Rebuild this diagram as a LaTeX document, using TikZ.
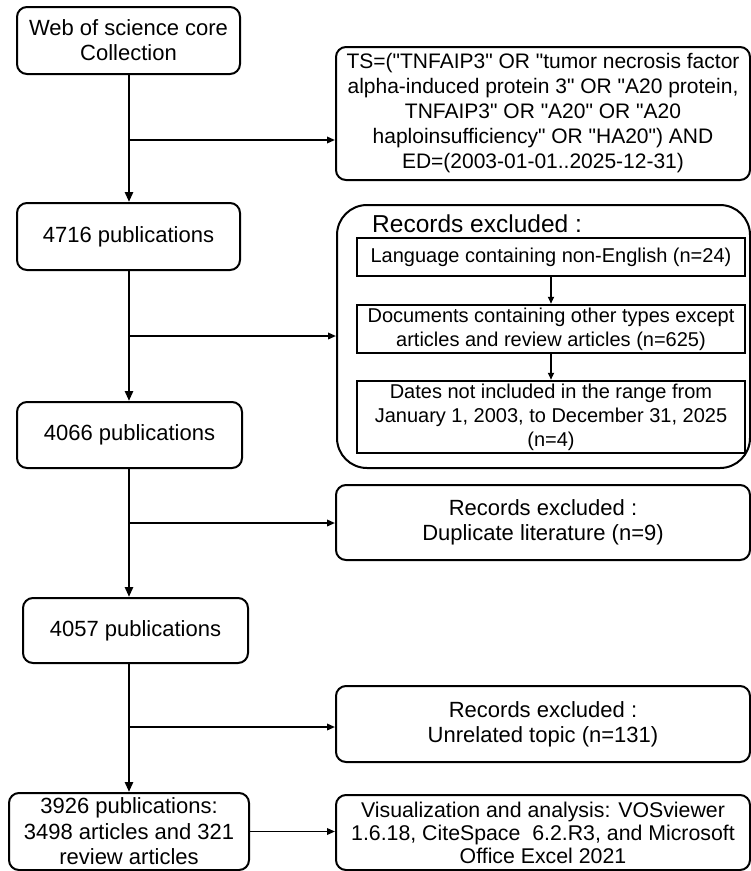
\documentclass[tikz,border=0pt]{standalone}
\usepackage{fontspec}
\setmainfont{Liberation Sans}
\usetikzlibrary{arrows.meta}
\newcommand\dq{\textquotedbl{}}
\tikzset{
  rbox/.style={draw, line width=2pt, rounded corners=10pt, align=center, inner sep=0pt,
    font=\fontsize{22}{25}\selectfont},
  ibox/.style={draw, line width=2.5pt, align=center, inner sep=0pt,
    font=\fontsize{20}{24}\selectfont},
  mainarr/.style={line width=2.6pt, -{Triangle[length=10pt,width=8pt]}},
  brarr/.style={line width=1.8pt, -{Triangle[length=8pt,width=6.5pt]}},
  inarr/.style={line width=1.6pt, -{Triangle[length=7pt,width=6pt]}},
}
\begin{document}
\begin{tikzpicture}[x=1pt, y=-1pt]
\useasboundingbox (0,0) rectangle (751,871);
% left column
\node[rbox, minimum width=223pt, minimum height=67pt] (b1) at (128.5,40.5)
  {Web of science core\\Collection};
\node[rbox, minimum width=223pt, minimum height=67pt] (b4716) at (128.5,236.5)
  {4716 publications};
\node[rbox, minimum width=225pt, minimum height=66pt] (b4066) at (129.5,435)
  {4066 publications};
\node[rbox, minimum width=225pt, minimum height=65pt] (b4057) at (135.5,630.5)
  {4057 publications};
\node[rbox, minimum width=240pt, minimum height=77pt, font=\fontsize{22}{25.5}\selectfont] (b3926) at (129,831.5)
  {3926 publications:\\3498 articles and 321\\review articles};
% right column
\node[rbox, minimum width=414pt, minimum height=133pt, font=\fontsize{21}{25}\selectfont] (ts) at (543,113.5)
  {TS=(\dq TNFAIP3\dq{} OR \dq tumor necrosis factor\\alpha-induced protein 3\dq{} OR \dq A20 protein,\\TNFAIP3\dq{} OR \dq A20\dq{} OR \dq A20\\haploinsufficiency\dq{} OR \dq HA20\dq) AND\\ED=(2003-01-01..2025-12-31)};
\node[draw, line width=2pt, rounded corners=30pt, minimum width=413pt, minimum height=263pt, inner sep=0pt] (big) at (543.5,336.5) {};
\node[anchor=west, inner sep=0pt, font=\fontsize{24.5}{28}\selectfont] (title) at (372,224) {Records excluded :};
\node[ibox, minimum width=388pt, minimum height=38pt] (inA) at (551,257)
  {Language containing non-English (n=24)};
\node[ibox, minimum width=388pt, minimum height=48pt] (inB) at (551,329)
  {Documents containing other types except\\articles and review articles (n=625)};
\node[ibox, minimum width=388pt, minimum height=72pt] (inC) at (551,417)
  {Dates not included in the range from\\January 1, 2003, to December 31, 2025\\(n=4)};
\node[rbox, minimum width=414pt, minimum height=75pt] (dup) at (543,522.5)
  {Records excluded :\\Duplicate literature (n=9)};
\node[rbox, minimum width=414pt, minimum height=76pt] (unrel) at (543,724)
  {Records excluded :\\Unrelated topic (n=131)};
\node[rbox, minimum width=414pt, minimum height=75pt, font=\fontsize{21.3}{23}\selectfont] (viz) at (543,832.5)
  {Visualization and analysis: VOSviewer\\1.6.18, CiteSpace\ \ 6.2.R3, and Microsoft\\Office Excel 2021};
% junctions
\coordinate (j1) at (129,140);
\coordinate (j2) at (129,336);
\coordinate (j3) at (129,523);
\coordinate (j4) at (129,727);
% main flow
\draw[mainarr] (b1.south -| j1) -- (j1 |- b4716.north);
\draw[mainarr] (b4716.south -| j1) -- (j1 |- b4066.north);
\draw[mainarr] (b4066.south -| j1) -- (j1 |- b4057.north);
\draw[mainarr] (b4057.south -| j1) -- (j1 |- b3926.north);
% branches
\draw[brarr] (j1) -- (j1 -| ts.west);
\draw[brarr] (j2) -- (j2 -| big.west);
\draw[brarr] (j3) -- (j3 -| dup.west);
\draw[brarr] (j4) -- (j4 -| unrel.west);
\draw[brarr] (b3926.east) -- (b3926.east -| viz.west);
% inner arrows
\draw[inarr] (inA.south) -- (inB.north);
\draw[inarr] (inB.south) -- (inC.north);
\end{tikzpicture}
\end{document}
